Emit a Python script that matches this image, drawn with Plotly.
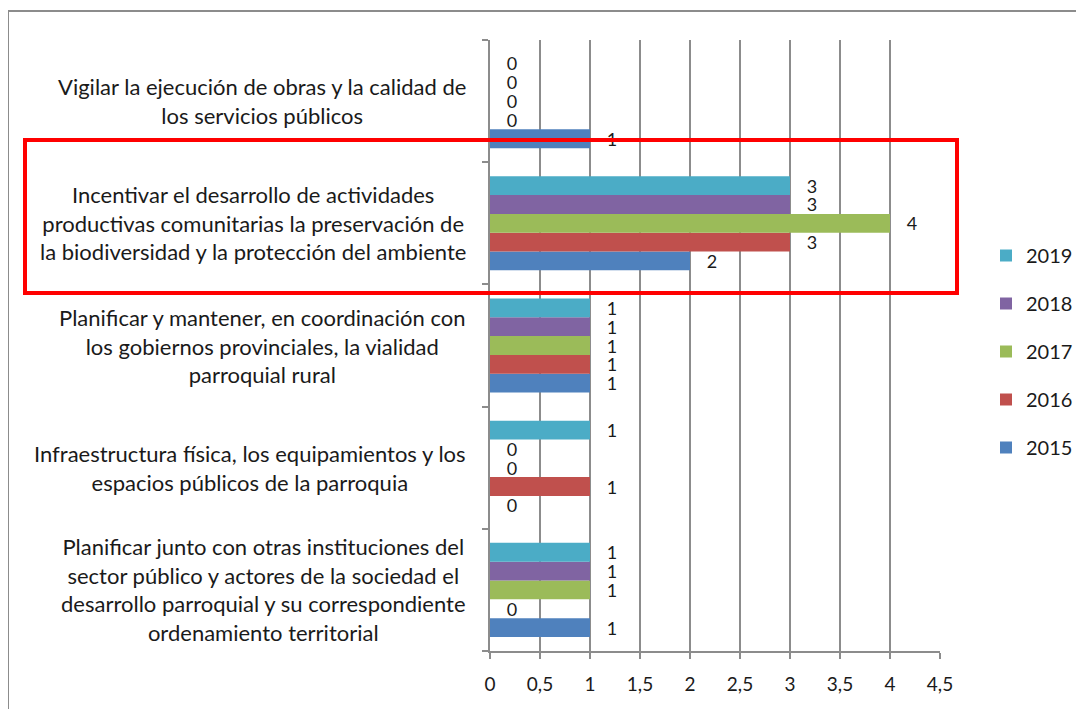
import plotly.graph_objects as go

categories = [
    "Planificar junto con otras instituciones del<br>sector público y actores de la sociedad el<br>desarrollo parroquial y su correspondiente<br>ordenamiento territorial",
    "Infraestructura física, los equipamientos y los<br>espacios públicos de la parroquia",
    "Planificar y mantener, en coordinación con<br>los gobiernos provinciales, la vialidad<br>parroquial rural",
    "Incentivar el desarrollo de actividades<br>productivas comunitarias la preservación de<br>la biodiversidad y la protección del ambiente",
    "Vigilar la ejecución de obras y la calidad de<br>los servicios públicos",
]
years = ["2015", "2016", "2017", "2018", "2019"]
values = {
    "2015": [1, 0, 1, 2, 1],
    "2016": [0, 1, 1, 3, 0],
    "2017": [1, 0, 1, 4, 0],
    "2018": [1, 0, 1, 3, 0],
    "2019": [1, 1, 1, 3, 0],
}
colors = {
    "2015": "#4F81BD",
    "2016": "#C0504D",
    "2017": "#9BBB59",
    "2018": "#8064A2",
    "2019": "#4BACC6",
}
x_ticks = [0, 0.5, 1, 1.5, 2, 2.5, 3, 3.5, 4, 4.5]

FONT = "Lato"
TXT = "#1A1A1A"
OFF = 8  # page body margin
W, H = 1084, 709
# plot area in screen pixels
SX0, SX1, SY0, SY1 = 490, 940, 40, 651
L, R = SX0 - OFF, W - (SX1 - OFF)
T, B = SY0 - OFF, H - (SY1 - OFF)
pw, ph = SX1 - SX0, SY1 - SY0

def px_x(p):
    return (p - SX0) / pw

def px_y(p):
    return (SY1 - p) / ph

fig = go.Figure()
for i, y in enumerate(years):
    fig.add_trace(go.Bar(
        y=categories, x=values[y], name=y, orientation="h",
        marker=dict(color=colors[y], line=dict(width=0)),
        text=["\u00a0\u00a0\u00a0" + str(v) for v in values[y]],
        textposition="outside", cliponaxis=False, constraintext="none",
        textfont=dict(family=FONT, size=18, color=TXT),
        legendgroup=y, legendrank=len(years) - i,
    ))

annotations = []
for c in categories:
    annotations.append(dict(
        x=px_x(468), xref="paper", y=c, yref="y", text=c, showarrow=False,
        xanchor="right", yanchor="middle", align="center",
        font=dict(family=FONT, size=22, color=TXT),
    ))

shapes = [
    dict(type="rect", xref="paper", yref="paper",
         x0=px_x(8), x1=px_x(1200), y0=px_y(800), y1=px_y(11),
         line=dict(color="#8C8C8C", width=2), layer="below"),
    dict(type="rect", xref="paper", yref="paper",
         x0=px_x(25), x1=px_x(957), y0=px_y(293), y1=px_y(140),
         line=dict(color="#FF0000", width=4)),
]

fig.update_layout(
    width=W, height=H,
    margin=dict(l=L, r=R, t=T, b=B),
    paper_bgcolor="white", plot_bgcolor="white",
    separators=",.",
    barmode="group", bargap=0.23, bargroupgap=0,
    font=dict(family=FONT, size=18, color=TXT),
    showlegend=True,
    legend=dict(
        traceorder="grouped", tracegroupgap=19,
        xref="container", yref="container",
        x=(1006 - 20 - OFF) / W, y=1 - (236 - OFF) / H,
        xanchor="left", yanchor="top",
        font=dict(family=FONT, size=20, color=TXT),
        itemwidth=30,
    ),
    annotations=annotations,
    shapes=shapes,
    xaxis=dict(
        range=[0, 4.5], tickvals=x_ticks, showgrid=True,
        gridcolor="#8C8C8C", gridwidth=2,
        showline=True, linecolor="#8C8C8C", linewidth=2,
        ticks="outside", ticklen=6, tickcolor="#8C8C8C", tickwidth=2,
        tickfont=dict(family=FONT, size=19, color=TXT),
        ticklabelstandoff=9,
        zeroline=False,
    ),
    yaxis=dict(
        categoryorder="array", categoryarray=categories,
        showticklabels=False, tickson="boundaries",
        ticks="outside", ticklen=6, tickcolor="#8C8C8C", tickwidth=2,
        showline=True, linecolor="#8C8C8C", linewidth=2,
        showgrid=False, zeroline=False,
    ),
)

fig.write_html("out.html")
